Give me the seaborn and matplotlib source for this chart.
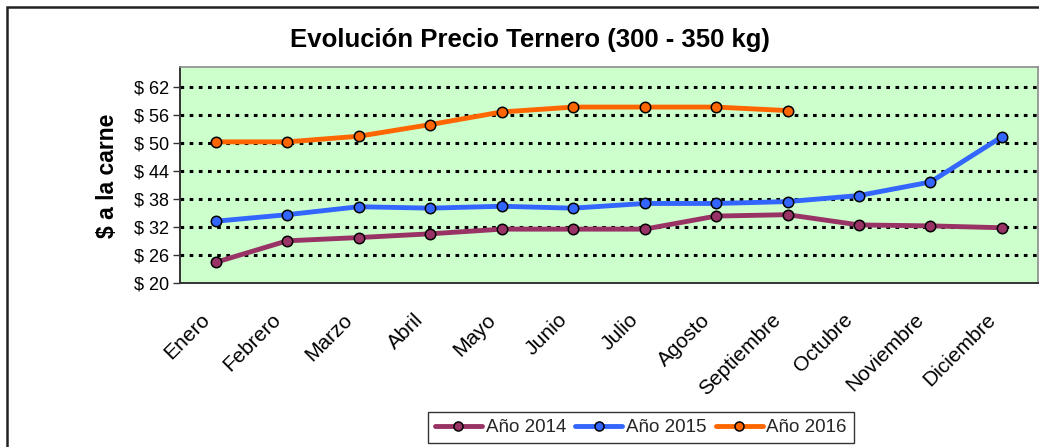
import numpy as np
import pandas as pd
import matplotlib
matplotlib.use("Agg")
import matplotlib.pyplot as plt
import matplotlib.transforms as mtransforms
from matplotlib.lines import Line2D
from matplotlib.patches import Rectangle
from matplotlib.ticker import FixedLocator, NullFormatter
import seaborn as sns

months = ["Enero", "Febrero", "Marzo", "Abril", "Mayo", "Junio", "Julio",
          "Agosto", "Septiembre", "Octubre", "Noviembre", "Diciembre"]
anio_2014 = [24.5, 29.1, 29.8, 30.6, 31.6, 31.6, 31.6, 34.4, 34.7, 32.5, 32.3, 31.9]
anio_2015 = [33.3, 34.7, 36.4, 36.1, 36.5, 36.1, 37.1, 37.1, 37.5, 38.8, 41.7, 51.4]
anio_2016 = [50.3, 50.3, 51.5, 54.0, 56.7, 57.75, 57.75, 57.75, 57.0, np.nan, np.nan, np.nan]
series_names = ["Año 2014", "Año 2015", "Año 2016"]
y_ticks = [20, 26, 32, 38, 44, 50, 56, 62]
title = "Evolución Precio Ternero (300 - 350 kg)"
y_label = "$ a la carne"

colors = ["#993366", "#3366FF", "#FF6600"]

rows = []
for name, vals in zip(series_names, [anio_2014, anio_2015, anio_2016]):
    for m, v in zip(months, vals):
        rows.append({"Mes": m, "Serie": name, "Valor": v})
df = pd.DataFrame(rows)
df["Mes"] = pd.Categorical(df["Mes"], categories=months, ordered=True)
df["pos"] = df["Mes"].cat.codes

sns.set_theme(style="white")
plt.rcParams["font.family"] = ["Liberation Sans", "DejaVu Sans"]

W, H = 1039, 447
fig = plt.figure(figsize=(W / 100, H / 100), dpi=100)
fig.patch.set_facecolor("white")

left, right, top, bottom = 180, 1037.7, 66.7, 283.3
ax = fig.add_axes([left / W, 1 - bottom / H, (right - left) / W, (bottom - top) / H])
ax.set_facecolor("#CCFFCC")

for name, col in zip(series_names, colors):
    sub = df[df["Serie"] == name].dropna()
    sns.lineplot(data=sub, x="pos", y="Valor", ax=ax, color=col, linewidth=3.5,
                 marker="o", markersize=7.5, markeredgecolor="black",
                 markeredgewidth=1.1, markerfacecolor=col, legend=False, zorder=3)

ax.set_xlim(-0.5, len(months) - 0.5)
ax.set_ylim(20, 66.4)
ax.yaxis.set_major_locator(FixedLocator(y_ticks))
ax.set_yticklabels([f"$ {v}" for v in y_ticks], fontsize=13, color="black")
ax.xaxis.set_major_locator(FixedLocator(range(len(months))))
ax.xaxis.set_major_formatter(NullFormatter())
ax.xaxis.set_minor_locator(FixedLocator(np.arange(-0.5, len(months), 1.0)))
ax.tick_params(axis="x", which="major", length=0)
ax.tick_params(axis="x", which="minor", length=5, width=1, color="#333333", direction="out")
ax.tick_params(axis="y", which="major", length=5, width=1, color="#333333",
               direction="out", left=True, pad=3)

# category labels, rotated like the reference
base = mtransforms.blended_transform_factory(ax.transData, ax.transAxes)
offset = mtransforms.ScaledTranslation(-16 / 100, -27 / 100, fig.dpi_scale_trans)
for i, m in enumerate(months):
    ax.text(i, 0, m, transform=base + offset, rotation=45, ha="right", va="top",
            rotation_mode="anchor", fontsize=15, color="black")

for yv in y_ticks[1:]:
    ax.axhline(yv, color="black", linestyle=(0, (1.2, 1.8)), linewidth=2.2, zorder=1)

ax.set_xlabel("")
ax.set_ylabel("")
for s in ["top", "right"]:
    ax.spines[s].set_color("#8c8c8c")
    ax.spines[s].set_linewidth(1.2)
for s in ["left", "bottom"]:
    ax.spines[s].set_color("#333333")
    ax.spines[s].set_linewidth(1.4)

fig.text(530 / W, 1 - 40 / H, title, ha="center", va="center",
         fontsize=18.5, fontweight="bold", color="black")
fig.text(108 / W, 1 - 176 / H, y_label, ha="center", va="center",
         rotation=90, fontsize=16.5, fontweight="bold", color="black")

handles = [Line2D([0], [0], color=c, linewidth=3.5, marker="o", markersize=6.5,
                  markerfacecolor=c, markeredgecolor="black", markeredgewidth=1.1)
           for c in colors]
leg = fig.legend(handles, series_names, loc="center", ncol=3,
                 bbox_to_anchor=(641 / W, 1 - 427.5 / H), fontsize=13.5,
                 frameon=True, fancybox=False, handlelength=2.5, handletextpad=0.2,
                 columnspacing=0.5, borderpad=0.35)
leg.get_frame().set_edgecolor("black")
leg.get_frame().set_linewidth(1.0)

fig.patches.append(Rectangle((6.5 / W, -0.05), 1.1, 1 - 6.5 / H + 0.05,
                             transform=fig.transFigure, fill=False,
                             edgecolor="#222222", linewidth=1.8, zorder=10))

fig.savefig("out.png", dpi=100, facecolor="white")
